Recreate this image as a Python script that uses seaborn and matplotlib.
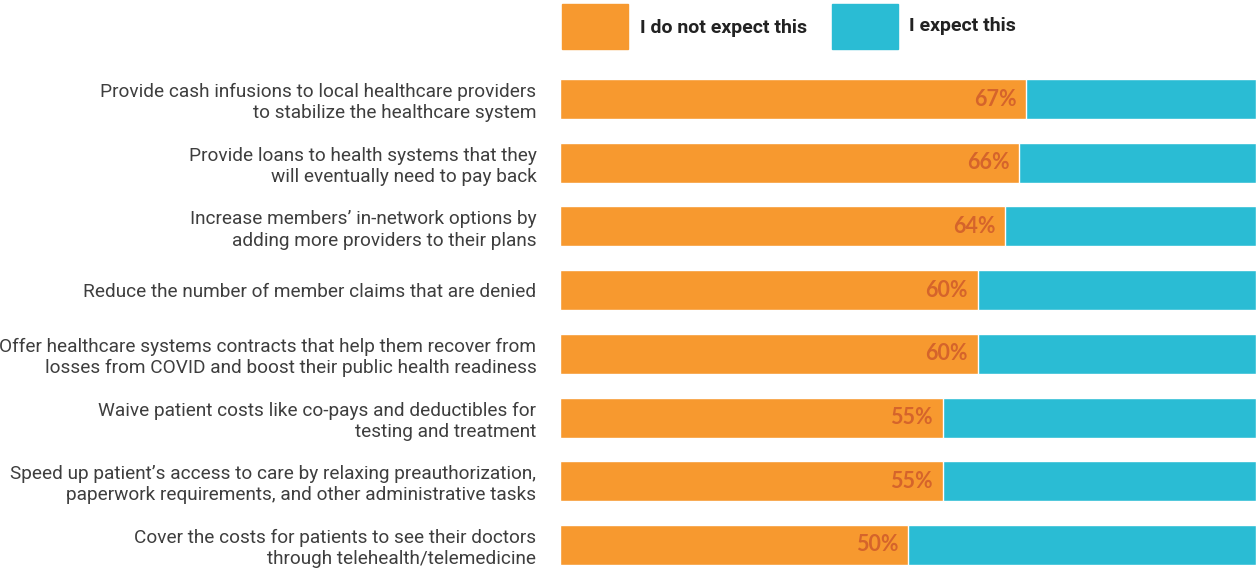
import matplotlib
matplotlib.use("Agg")
import matplotlib.pyplot as plt
from matplotlib.patches import Rectangle
import seaborn as sns
import pandas as pd

# Survey responses: share of respondents who do / do not expect each action
statements = [
    "Provide cash infusions to local healthcare providers\nto stabilize the healthcare system",
    "Provide loans to health systems that they\nwill eventually need to pay back",
    "Increase members\u2019 in-network options by\nadding more providers to their plans",
    "Reduce the number of member claims that are denied",
    "Offer healthcare systems contracts that help them recover from\nlosses from COVID and boost their public health readiness",
    "Waive patient costs like co-pays and deductibles for\ntesting and treatment",
    "Speed up patient\u2019s access to care by relaxing preauthorization,\npaperwork requirements, and other administrative tasks",
    "Cover the costs for patients to see their doctors\nthrough telehealth/telemedicine",
]
do_not_expect = [67, 66, 64, 60, 60, 55, 55, 50]
expect = [33, 34, 36, 40, 40, 45, 45, 50]
series_names = ["I do not expect this", "I expect this"]

ORANGE = "#F7992F"
CYAN = "#2ABCD4"
LABEL_RED = "#D5642B"
TEXT = "#3E3E3E"

sns.set_style("white")
plt.rcParams["font.family"] = ["Roboto", "DejaVu Sans"]

df = pd.DataFrame({
    "statement": statements,
    "not_expect": do_not_expect,
    "total": [a + b for a, b in zip(do_not_expect, expect)],
})

fig = plt.figure(figsize=(12.56, 5.68), dpi=100)
ax = fig.add_axes([560 / 1256, 0.0, 1 - 560 / 1256, 1 - 60 / 568])

# Stacked horizontal bars: full bar in cyan, "not expect" share overlaid in orange
sns.barplot(data=df, y="statement", x="total", color=CYAN, width=0.628,
            saturation=1, ax=ax, orient="h")
sns.barplot(data=df, y="statement", x="not_expect", color=ORANGE, width=0.628,
            saturation=1, ax=ax, orient="h")

ax.set_xlim(0, 100)
ax.set_ylim(7 + 23 / 63.71, -39 / 63.71)
ax.set_xlabel("")
ax.set_ylabel("")
ax.set_xticks([])
ax.tick_params(axis="y", length=0, pad=17)
ax.set_yticks(range(len(statements)))
ax.set_yticklabels(statements, fontsize=13.7, color=TEXT, linespacing=1.22)
for lab in ax.get_yticklabels():
    lab.set_horizontalalignment("right")
sns.despine(ax=ax, left=True, bottom=True)

# Value labels inside the orange segment
for i, v in enumerate(do_not_expect):
    ax.text(v - 1.4, i, f"{v}%", ha="right", va="center", fontsize=15.5,
            fontweight="bold", color=LABEL_RED, family=["Lato", "DejaVu Sans"])

# Legend drawn as swatches across the top
W, H = 1256, 568
fig.patches.append(Rectangle((562 / W, 1 - 49 / H), 66 / W, 45 / H,
                             transform=fig.transFigure, color=ORANGE))
fig.text(640 / W, 1 - 28 / H, series_names[0], ha="left", va="center",
         fontsize=14, fontweight="bold", color="#222222")
fig.patches.append(Rectangle((832 / W, 1 - 49 / H), 66 / W, 45 / H,
                             transform=fig.transFigure, color=CYAN))
fig.text(909 / W, 1 - 26 / H, series_names[1], ha="left", va="center",
         fontsize=14, fontweight="bold", color="#222222")

fig.savefig("out.png", dpi=100)
